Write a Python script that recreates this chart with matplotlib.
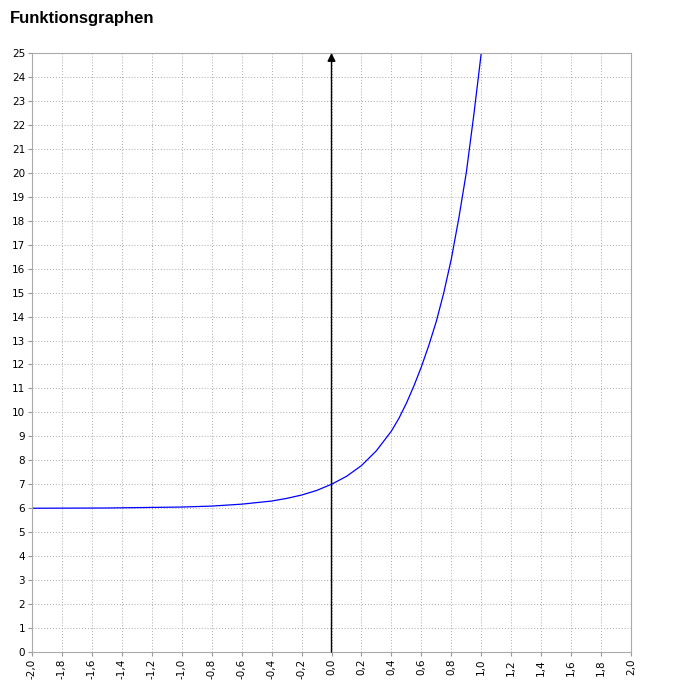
import matplotlib
matplotlib.use("Agg")
import matplotlib.pyplot as plt

title = "Funktionsgraphen"
x_vals = [-2.0, -1.5, -1.0, -0.8, -0.6, -0.4, -0.3, -0.2, -0.1, 0.0, 0.1, 0.2, 0.3,
          0.4, 0.45, 0.5, 0.55, 0.6, 0.65, 0.7, 0.75, 0.8, 0.85, 0.9, 0.95, 1.0]
y_vals = [6.00, 6.01, 6.05, 6.09, 6.17, 6.30, 6.41, 6.55, 6.74, 7.00, 7.33, 7.78, 8.40,
          9.22, 9.75, 10.38, 11.10, 11.90, 12.80, 13.80, 15.00, 16.40, 18.10, 20.00, 22.40, 25.0]
x_ticks = [round(-2 + 0.2 * i, 1) for i in range(21)]
y_ticks = list(range(0, 26))

fig = plt.figure(figsize=(6.83, 6.89), dpi=100)
ax = fig.add_axes([32/683, 1-652/689, 599/683, 599/689])
ax.set_xlim(-2, 2)
ax.set_ylim(0, 25)
ax.set_xticks(x_ticks)
ax.set_xticklabels([f"{t:.1f}".replace(".", ",") for t in x_ticks], rotation=90, fontsize=7.5)
ax.set_yticks(y_ticks)
ax.set_yticklabels([str(t) for t in y_ticks], fontsize=7.5)
ax.tick_params(length=3, color="#999999", pad=2)
ax.grid(True, linestyle=(0, (1, 2)), color="#aaaaaa", linewidth=0.7)
for s in ax.spines.values():
    s.set_color("#aaaaaa")
ax.plot(x_vals, y_vals, color="blue", linewidth=0.9)
ax.annotate("", xy=(0, 25), xytext=(0, 0),
            arrowprops=dict(arrowstyle="-|>", color="black", lw=1, mutation_scale=12,
                            shrinkA=0, shrinkB=0))
fig.text(10/683, 1-18/689, title, fontsize=12, fontweight="bold", va="center", ha="left",
         family="Liberation Sans")
fig.savefig("out.png", dpi=100)
